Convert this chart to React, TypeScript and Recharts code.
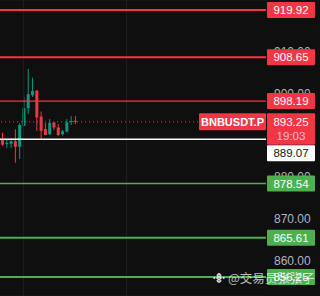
import React from "react";
import { ComposedChart, Bar, XAxis, YAxis, CartesianGrid, ReferenceLine } from "recharts";

// 18 visible candles, the rest of the slots are empty space to the right
const opens = [889.2, 888.0, 888.0, 888.6, 887.3, 892.3, 896.5, 899.6, 900.7, 894.5, 891.5, 890.3, 893.1, 891.9, 890.3, 890.9, 893.3, 893.5];
const highs = [890.6, 889.2, 889.4, 891.5, 893.0, 899.2, 905.85, 903.8, 900.8, 895.7, 893.0, 893.9, 893.1, 892.7, 891.3, 893.9, 894.6, 894.6];
const lows = [887.5, 887.0, 887.0, 883.5, 884.4, 892.3, 895.1, 899.2, 891.1, 889.2, 890.1, 890.1, 891.3, 889.9, 889.95, 890.8, 892.5, 892.7];
const closes = [887.8, 888.2, 888.6, 887.3, 892.5, 896.5, 899.8, 900.6, 894.3, 891.1, 890.1, 893.0, 891.9, 890.1, 891.0, 893.1, 893.45, 893.25];
const SLOTS = 62;
const gridSlots = [5, 29];

const resistance = [919.92, 908.65, 898.19];
const support = [878.54, 865.61, 856.25];
const entryPrice = 889.07;
const lastPrice = 893.25;
const symbol = "BNBUSDT.P";
const countdown = "19:03";
const priceTicks = [860, 870, 880, 890, 900, 910, 920];
const watermark = "@交易员张张子";

const RED = "#f23645";
const GREEN = "#4caf50";
const UP = "#089981";
const BG = "#0f0f0f";
const GRID = "#1f1f1f";

const resistanceWidths = [2, 2, 1.4];
const supportWidths = [1.4, 2, 2];

const data = Array.from({ length: SLOTS }, (_, i) =>
  i < opens.length
    ? { i, open: opens[i], high: highs[i], low: lows[i], close: closes[i], range: [lows[i], highs[i]] }
    : { i, range: null }
);

const Candle = (props: any) => {
  const { x, y, width, height, payload } = props;
  if (!payload || payload.high == null) return null;
  const top = Math.min(y, y + height);
  const h = Math.abs(height);
  const ppu = h / (payload.high - payload.low || 1);
  const up = payload.close >= payload.open;
  const color = up ? UP : RED;
  const bodyTop = top + (payload.high - Math.max(payload.open, payload.close)) * ppu;
  const bodyH = Math.max(1, Math.abs(payload.open - payload.close) * ppu);
  const cx = x + width / 2;
  return (
    <g>
      <line x1={cx} x2={cx} y1={top} y2={top + h} stroke={color} strokeWidth={1} />
      <rect x={x} y={bodyTop} width={width} height={bodyH} fill={color} />
    </g>
  );
};

// axis price text, drawn as reference-line labels so the level boxes can cover it
const TickLabel = (props: any) => {
  const { viewBox, text } = props;
  if (!viewBox) return null;
  return (
    <text x={viewBox.x + viewBox.width + 8} y={viewBox.y} dominantBaseline="central" fill="#b2b5be" fontSize={12}>
      {text}
    </text>
  );
};

const BoxLabel = (props: any) => {
  const { viewBox, text, fill, color = "#fff", dy = 0 } = props;
  if (!viewBox) return null;
  const x = viewBox.x + viewBox.width + 1;
  const cy = viewBox.y + dy;
  return (
    <g>
      <rect x={x} y={cy - 8} width={48} height={16} fill={fill} rx={1} />
      <text x={x + 24} y={cy} textAnchor="middle" dominantBaseline="central" fill={color} fontSize={11.5}>
        {text}
      </text>
    </g>
  );
};

const LastPriceLabel = (props: any) => {
  const { viewBox } = props;
  if (!viewBox) return null;
  const right = viewBox.x + viewBox.width;
  const cy = viewBox.y;
  return (
    <g>
      <rect x={right - 67} y={cy - 8.5} width={67} height={17} fill={RED} rx={1} />
      <text x={right - 33.5} y={cy} textAnchor="middle" dominantBaseline="central" fill="#fff" fontSize={11} fontWeight="bold">
        {symbol}
      </text>
      <rect x={right + 1} y={cy - 8.5} width={48} height={31.5} fill={RED} rx={1} />
      <text x={right + 25} y={cy} textAnchor="middle" dominantBaseline="central" fill="#fff" fontSize={11.5}>
        {lastPrice.toFixed(2)}
      </text>
      <text x={right + 25} y={cy + 14.5} textAnchor="middle" dominantBaseline="central" fill="#f9c1c6" fontSize={11.5}>
        {countdown}
      </text>
    </g>
  );
};

const BinanceLogo = () => (
  <svg width={12} height={12} viewBox="0 0 12 12" style={{ display: "block" }}>
    <g fill="none" stroke="rgba(255,255,255,0.85)" strokeWidth={1.6}>
      <path d="M6 1.5 L8.2 3.7 M6 1.5 L3.8 3.7" />
      <path d="M6 10.5 L8.2 8.3 M6 10.5 L3.8 8.3" />
      <rect x={4.6} y={4.6} width={2.8} height={2.8} transform="rotate(45 6 6)" />
    </g>
    <rect x={0.4} y={5.1} width={1.8} height={1.8} fill="rgba(255,255,255,0.85)" transform="rotate(45 1.3 6)" />
    <rect x={9.8} y={5.1} width={1.8} height={1.8} fill="rgba(255,255,255,0.85)" transform="rotate(45 10.7 6)" />
  </svg>
);

export default function App() {
  return (
    <div style={{ position: "relative", width: 320, height: 296, background: BG, fontFamily: "'Liberation Sans', Arial, sans-serif" }}>
      <style>{"body{margin:0;background:" + BG + "}"}</style>
      <ComposedChart width={320} height={296} data={data} margin={{ top: 0, right: 0, bottom: 0, left: 0 }}>
        <CartesianGrid stroke={GRID} vertical={false} />
        <XAxis dataKey="i" type="category" hide />
        <YAxis
          orientation="right"
          width={54}
          domain={[851.72, 922.3]}
          allowDataOverflow
          ticks={priceTicks}
          axisLine={false}
          tickLine={false}
          tick={false}
        />
        {gridSlots.map((s) => (
          <ReferenceLine key={"g" + s} x={s} stroke={GRID} strokeWidth={1} />
        ))}
        <Bar dataKey="range" barSize={3} shape={Candle} isAnimationActive={false} />
        {priceTicks.map((t) => (
          <ReferenceLine key={"t" + t} y={t} stroke="none" label={<TickLabel text={t.toFixed(2)} />} />
        ))}
        {resistance.map((v, k) => (
          <ReferenceLine
            key={"r" + v}
            y={v}
            stroke={RED}
            strokeWidth={resistanceWidths[k]}
            label={<BoxLabel text={v.toFixed(2)} fill={RED} />}
          />
        ))}
        {support.map((v, k) => (
          <ReferenceLine
            key={"s" + v}
            y={v}
            stroke={GREEN}
            strokeWidth={supportWidths[k]}
            label={<BoxLabel text={v.toFixed(2)} fill={GREEN} />}
          />
        ))}
        <ReferenceLine y={lastPrice} stroke={RED} strokeDasharray="1 3" strokeWidth={1} label={<LastPriceLabel />} />
        <ReferenceLine
          y={entryPrice}
          stroke="#ffffff"
          strokeWidth={1.5}
          label={<BoxLabel text={entryPrice.toFixed(2)} fill="#ffffff" color="#131722" dy={14} />}
        />
      </ComposedChart>
      <div
        style={{
          position: "absolute",
          left: 213,
          top: 271,
          display: "flex",
          alignItems: "center",
          gap: 3,
          color: "rgba(255,255,255,0.72)",
          fontSize: 12.5,
          fontFamily: "'Noto Sans CJK SC', sans-serif",
          lineHeight: "14px",
          whiteSpace: "nowrap",
        }}
      >
        <BinanceLogo />
        <span>{watermark}</span>
      </div>
    </div>
  );
}
